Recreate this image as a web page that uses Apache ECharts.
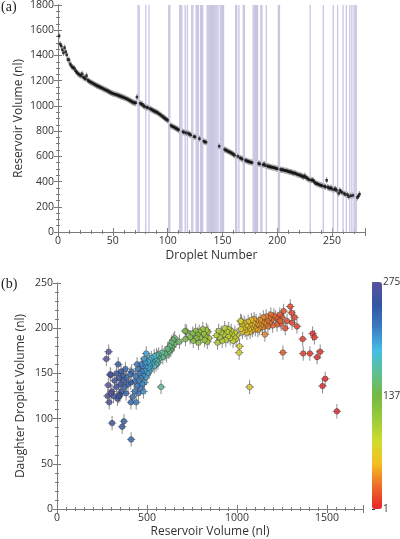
<!DOCTYPE html>
<html><head><meta charset="utf-8">
<script src="https://cdn.jsdelivr.net/npm/echarts@6/dist/echarts.min.js"></script>
<style>html,body{margin:0;padding:0;background:#fff}#c{width:400px;height:539px}</style>
</head><body><div id="c"></div>
<script>
// droplet numbers that have a measurement
const droplet = [
1,2,3,4,5,6,7,8,9,10,
11,12,13,14,15,16,17,18,19,20,
21,22,23,24,25,26,27,28,29,30,
31,32,33,34,35,36,37,38,39,40,
41,42,43,44,45,46,47,48,49,50,
51,52,53,54,55,56,57,58,59,60,
61,62,63,64,65,66,67,68,69,70,
71,72,75,76,77,78,79,81,82,84,
85,86,87,88,89,90,91,92,93,94,
95,96,97,98,99,100,103,104,105,106,
107,108,109,110,114,115,117,119,120,121,
124,125,129,133,134,135,147,152,153,154,
155,156,157,158,159,160,161,164,166,167,
168,171,172,173,174,175,176,177,183,184,
187,188,189,191,192,193,194,195,196,197,
198,199,200,203,204,205,206,207,208,209,
210,211,212,213,214,215,216,217,218,219,
220,221,222,223,224,225,226,227,228,229,
231,232,233,234,235,236,237,238,239,240,
241,243,244,245,246,247,248,249,250,252,
253,254,256,257,258,259,261,262,264,265,
267,269,273,274,275];
// reservoir volume (nl)
const reservoirVol = [
1555,1490,1475,1445,1420,1462,1430,1405,1368,1365,
1333,1320,1306,1303,1296,1278,1268,1259,1250,1245,
1238,1255,1228,1222,1215,1240,1205,1198,1192,1188,
1182,1178,1172,1168,1162,1158,1155,1150,1146,1142,
1137,1133,1128,1124,1120,1116,1110,1106,1102,1098,
1095,1092,1090,1086,1083,1080,1076,1073,1070,1066,
1062,1059,1055,1050,1045,1040,1035,1030,1028,1022,
1025,1070,1020,1014,1012,1000,995,988,985,978,
972,968,962,958,954,950,945,938,932,926,
918,912,905,898,892,886,845,838,835,830,
825,820,815,810,795,790,786,781,775,770,
757,754,740,720,714,712,680,654,650,646,
640,636,632,627,622,615,609,600,588,584,
578,568,565,561,558,555,553,550,543,540,
532,540,527,524,520,518,516,514,512,510,
507,504,502,496,492,494,490,486,488,484,
480,478,476,474,470,466,468,462,458,455,
452,450,446,440,437,445,432,430,420,415,
411,412,407,395,386,384,380,376,372,370,
366,362,358,410,356,350,345,352,340,336,
343,330,306,330,320,314,305,298,296,281,
287,290,274,285,300];
// daughter droplet volume (nl)
const daughterVol = [
108,144,136,168,194,174,190,172,172,188,
202,212,206,217,224,208,200,219,212,205,
215,173,210,204,212,208,214,203,209,215,
206,211,202,208,213,204,193,206,212,201,
207,203,209,200,205,198,204,208,199,205,
210,201,206,198,203,209,200,196,204,199,
207,202,195,203,198,206,200,196,204,199,
207,135,208,180,173,192,188,195,190,186,
193,197,189,194,199,191,196,187,200,193,
186,195,190,197,184,192,189,196,185,198,
191,187,194,199,190,196,184,193,189,197,
186,194,190,196,188,197,185,189,182,187,
179,184,176,180,174,177,170,172,168,173,
135,166,171,162,168,164,170,160,166,158,
163,169,161,167,155,162,158,165,152,160,
156,163,150,172,157,146,162,140,153,166,
130,148,158,138,152,145,160,134,150,142,
128,155,136,118,147,160,130,141,124,152,
118,77,149,138,145,128,155,135,97,142,
148,91,130,140,152,126,145,138,160,122,
125,150,95,135,142,125,130,148,149,125,
174,118,166,137,128];
// droplets marked by vertical bands in (a)
const gapDroplets = [73,74,80,83,101,102,111,112,113,116,118,122,123,126,127,128,
130,131,132,136,137,138,139,140,141,142,143,144,145,146,148,149,150,151,
162,163,165,169,170,178,179,180,181,182,185,186,190,201,202,230,242,
251,255,260,263,266,268,270,271,272];
const resErr = 24;
const dauErr = 8;
const colorbarTicks = [1, 137, 275];
const colorStops = ['#e8232a','#ee6a2a','#f5bf22','#cfdc2e','#98cb3a','#74b843','#5fc192','#44bde6','#3a7cc4','#3355a2','#5a52a0'];

const ptsA = droplet.map((n, i) => [n, reservoirVol[i]]);
const ptsB = droplet.map((n, i) => [reservoirVol[i], daughterVol[i], n]);

const FONT = 'Open Sans';
const AX = '#7a7a7a';
const plain = v => String(v);
const lbl = {fontFamily: FONT, fontSize: 10.5, color: '#333', margin: 4, formatter: plain};
const nameStyle = {fontFamily: FONT, fontSize: 12, color: '#333'};
const line = {show: true, lineStyle: {color: AX, width: 1}};
const tick = {show: true, inside: true, length: 4, lineStyle: {color: AX}};
const minor = {show: true, length: 2, lineStyle: {color: AX}};

function xAx(grid, min, max, interval, split, name, gap, top) {
  return {type: 'value', gridIndex: grid, min, max, interval, position: top ? 'top' : 'bottom',
    axisLine: line, axisTick: tick, minorTick: Object.assign({splitNumber: split}, minor),
    splitLine: {show: false},
    axisLabel: top ? {show: false} : Object.assign({showMaxLabel: false}, lbl),
    name: top ? '' : name, nameLocation: 'middle', nameGap: gap, nameMoveOverlap: false, nameTextStyle: nameStyle};
}
function yAx(grid, min, max, interval, split, name, gap, right) {
  return {type: 'value', gridIndex: grid, min, max, interval, position: right ? 'right' : 'left',
    axisLine: line, axisTick: tick, minorTick: Object.assign({splitNumber: split}, minor),
    splitLine: {show: false},
    axisLabel: right ? {show: false} : lbl,
    name: right ? '' : name, nameLocation: 'middle', nameGap: gap, nameMoveOverlap: false, nameTextStyle: nameStyle};
}

const chart = echarts.init(document.getElementById('c'), null, {renderer: 'canvas'});
chart.setOption({
  animation: false,
  backgroundColor: '#fff',
  grid: [
    {left: 58, top: 5, width: 307, height: 227, outerBoundsMode: 'none', containLabel: false},
    {left: 57, top: 283, width: 306, height: 226, outerBoundsMode: 'none', containLabel: false},
    {left: 372, top: 282, width: 10, height: 227, outerBoundsMode: 'none', containLabel: false}
  ],
  xAxis: [
    xAx(0, 0, 280, 50, 5, 'Droplet Number', 18, false),
    xAx(0, 0, 280, 50, 5, '', 0, true),
    xAx(1, 0, 1700, 500, 10, 'Reservoir Volume (nl)', 17, false),
    xAx(1, 0, 1700, 500, 10, '', 0, true),
    {type: 'value', gridIndex: 2, show: false, min: 0, max: 1}
  ],
  yAxis: [
    yAx(0, 0, 1800, 200, 4, 'Reservoir Volume (nl)', 33, false),
    yAx(0, 0, 1800, 200, 4, '', 0, true),
    yAx(1, 0, 250, 50, 5, 'Daughter Droplet Volume (nl)', 30, false),
    yAx(1, 0, 250, 50, 5, '', 0, true),
    {type: 'value', gridIndex: 2, position: 'right', min: 1, max: 275,
     axisLine: {show: false}, splitLine: {show: false},
     axisTick: {show: true, inside: false, length: 3, customValues: colorbarTicks, lineStyle: {color: '#333'}},
     axisLabel: {customValues: colorbarTicks, fontFamily: FONT, fontSize: 10, color: '#333', margin: 1, formatter: plain}}
  ],
  visualMap: {
    type: 'continuous', min: 1, max: 275, dimension: 2, seriesIndex: 4,
    left: 372, top: 282, itemWidth: 10, itemHeight: 227, padding: 0,
    calculable: false, hoverLink: false, z: 1,
    inRange: {color: colorStops}
  },
  graphic: [
    {type: 'text', left: 1, top: 0, style: {text: '(a)', font: '14px "Liberation Serif"', fill: '#222'}},
    {type: 'text', left: 1, top: 277, style: {text: '(b)', font: '14px "Liberation Serif"', fill: '#222'}}
  ],
  series: [
    {type: 'custom', xAxisIndex: 0, yAxisIndex: 0, silent: true, z: 1,
     data: gapDroplets.map(n => [n, 0]),
     encode: {x: 0, y: 1},
     renderItem: function (params, api) {
       const n = api.value(0);
       const p1 = api.coord([n - 0.6, 1800]);
       const p2 = api.coord([n + 0.6, 0]);
       return {type: 'rect', shape: {x: p1[0], y: p1[1], width: p2[0] - p1[0], height: p2[1] - p1[1]},
               style: {fill: '#c8c6e2'}};
     }},
    {type: 'custom', xAxisIndex: 0, yAxisIndex: 0, silent: true, z: 2,
     data: ptsA, encode: {x: 0, y: 1},
     renderItem: function (params, api) {
       const n = api.value(0), v = api.value(1);
       const a = api.coord([n, v - resErr]), b = api.coord([n, v + resErr]);
       return {type: 'line', shape: {x1: a[0], y1: a[1], x2: b[0], y2: b[1]},
               style: {stroke: '#999', lineWidth: 1.2}};
     }},
    {type: 'scatter', xAxisIndex: 0, yAxisIndex: 0, z: 3, data: ptsA,
     symbol: 'rect', symbolSize: 2.6, itemStyle: {color: '#111'}},
    {type: 'custom', xAxisIndex: 2, yAxisIndex: 2, silent: true, z: 2,
     data: ptsB, encode: {x: 0, y: 1},
     renderItem: function (params, api) {
       const x = api.value(0), y = api.value(1);
       const a = api.coord([x, y - dauErr]), b = api.coord([x, y + dauErr]);
       const c = api.coord([x - resErr, y]), d = api.coord([x + resErr, y]);
       return {type: 'group', children: [
         {type: 'line', shape: {x1: a[0], y1: a[1], x2: b[0], y2: b[1]}, style: {stroke: '#8c8c8c', lineWidth: 1}},
         {type: 'line', shape: {x1: c[0], y1: c[1], x2: d[0], y2: d[1]}, style: {stroke: '#8c8c8c', lineWidth: 1}}
       ]};
     }},
    {type: 'scatter', xAxisIndex: 2, yAxisIndex: 2, z: 3, data: ptsB,
     symbolSize: 5.5, itemStyle: {borderColor: '#333', borderWidth: 0.6}}
  ]
});
</script></body></html>
